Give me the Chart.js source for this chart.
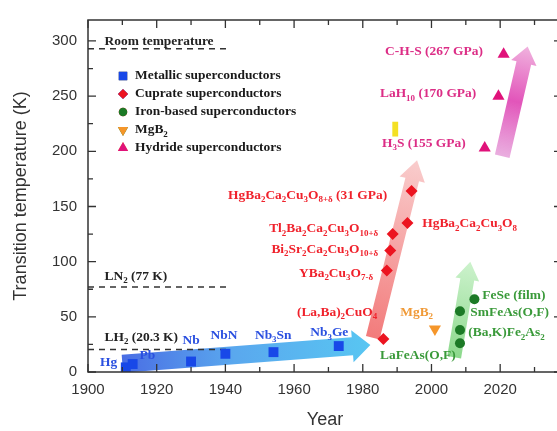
<!DOCTYPE html>
<html>
<head>
<meta charset="utf-8">
<script src="https://cdn.jsdelivr.net/npm/chart.js@4.4.1/dist/chart.umd.min.js"></script>
<style>
  html, body { margin: 0; padding: 0; background: #fff; overflow: hidden; }
  #wrap { width: 557px; height: 431px; overflow: hidden; }
</style>
</head>
<body>
<div id="wrap"><canvas id="tcChart" width="572" height="431"></canvas></div>
<script>
// discovery year vs transition temperature (K)
const metalYears = [1911, 1913, 1930, 1940, 1954, 1973];
const metalTc = [4.2, 7.2, 9.5, 16.5, 18, 23.5];

const cuprateYears = [1986, 1987, 1988, 1988.7, 1993, 1994.2];
const cuprateTc = [30, 92, 110, 125, 135, 164];

const ironYears = [2008.3, 2008.3, 2008.3, 2012.5];
const ironTc = [26, 38, 55, 66];

const mgb2Years = [2001];
const mgb2Tc = [39];

const hydrideYears = [2015.5, 2019.5, 2021];
const hydrideTc = [203, 250, 288];

const xTickStep = 20;
const yTickStep = 50;

// reference temperatures
const refNames = ['Room temperature', 'LN_2 (77 K)', 'LH_2 (20.3 K)'];
const refTemps = [293, 77, 20.3];
const refLabelTc = [299, 86.6, 31];

// point labels: text, year, Tc, align, family
const labels = [
  ['Hg', 1903.5, 8, 'left', 'metal'],
  ['Pb', 1915, 15, 'left', 'metal'],
  ['Nb', 1930, 28.5, 'center', 'metal'],
  ['NbN', 1939.6, 33, 'center', 'metal'],
  ['Nb_3Sn', 1948.6, 33, 'left', 'metal'],
  ['Nb_3Ge', 1964.7, 35, 'left', 'metal'],
  ['(La,Ba)_2CuO_4', 1984.2, 53.6, 'right', 'cuprate'],
  ['YBa_2Cu_3O_{7-δ}', 1983, 89, 'right', 'cuprate'],
  ['Bi_2Sr_2Ca_2Cu_3O_{10+δ}', 1984.5, 110.7, 'right', 'cuprate'],
  ['Tl_2Ba_2Ca_2Cu_3O_{10+δ}', 1984.5, 129.5, 'right', 'cuprate'],
  ['HgBa_2Ca_2Cu_3O_8', 1997.3, 134, 'left', 'cuprate'],
  ['HgBa_2Ca_2Cu_3O_{8+δ} (31 GPa)', 1987.1, 160, 'right', 'cuprate'],
  ['MgB_2', 1990.9, 54, 'left', 'mgb2'],
  ['LaFeAs(O,F)', 1985, 15, 'left', 'iron'],
  ['(Ba,K)Fe_2As_2', 2010.7, 35, 'left', 'iron'],
  ['SmFeAs(O,F)', 2011.3, 54, 'left', 'iron'],
  ['FeSe (film)', 2014.8, 69, 'left', 'iron'],
  ['H_3S (155 GPa)', 1985.6, 207, 'left', 'hydride'],
  ['LaH_{10} (170 GPa)', 1985, 252, 'left', 'hydride'],
  ['C-H-S (267 GPa)', 1986.5, 290, 'left', 'hydride']
];

// trend arrows: family, tail [year, Tc], tip [year, Tc]
const arrows = [
  ['metal', [1910, 7.5], [1982.2, 24.5]],
  ['cuprate', [1982.9, 31], [1995.8, 192]],
  ['iron', [2006.6, 13.4], [2011.3, 100]],
  ['hydride', [2020.6, 195.5], [2028, 295]]
];
const yellowBox = [[1988.6, 213.4], [1990.3, 226.8]];

const labelColors = { metal: '#2b50e0', cuprate: '#f0222c', iron: '#3a9a3a', mgb2: '#f09a38', hydride: '#dc2d86', ref: '#222' };

const serif = '"Liberation Serif", "Times New Roman", serif';
const sans = '"Liberation Sans", Arial, sans-serif';

function pts(xs, ys) { return xs.map((x, i) => ({ x: x, y: ys[i] })); }

function parseRich(s) {
  const parts = [];
  let buf = '', i = 0;
  while (i < s.length) {
    if (s[i] === '_') {
      if (buf) parts.push([buf, false]);
      buf = '';
      if (s[i + 1] === '{') {
        const j = s.indexOf('}', i);
        parts.push([s.slice(i + 2, j), true]);
        i = j + 1;
      } else {
        parts.push([s[i + 1], true]);
        i += 2;
      }
    } else {
      buf += s[i];
      i++;
    }
  }
  if (buf) parts.push([buf, false]);
  return parts;
}

function drawRich(ctx, s, x, y, align, color, size) {
  const parts = parseRich(s);
  const big = 'bold ' + size + 'px ' + serif;
  const small = 'bold ' + Math.round(size * 0.65) + 'px ' + serif;
  let w = 0;
  parts.forEach(p => { ctx.font = p[1] ? small : big; w += ctx.measureText(p[0]).width; });
  let cx = align === 'left' ? 0 : align === 'right' ? -w : -w / 2;
  ctx.save();
  ctx.translate(x, y);
  ctx.scale(1.12, 1);
  ctx.fillStyle = color;
  ctx.textBaseline = 'middle';
  ctx.textAlign = 'left';
  parts.forEach(p => {
    ctx.font = p[1] ? small : big;
    ctx.fillText(p[0], cx, p[1] ? size * 0.38 : 0);
    cx += ctx.measureText(p[0]).width;
  });
  ctx.restore();
}

const arrowStyle = {
  metal: { shaft: 18, head: 32, headLen: 18, stops: [[0, '#4a6ee4'], [0.45, '#5aa8ee'], [1, '#58c6f2']] },
  cuprate: { shaft: 14, head: 26, headLen: 20, stops: [[0, 'rgba(240,100,100,0.85)'], [1, 'rgba(248,196,196,0.85)']] },
  iron: { shaft: 14, head: 24, headLen: 18, stops: [[0, 'rgba(120,210,120,0.85)'], [1, 'rgba(196,240,196,0.85)']] },
  hydride: { shaft: 15, head: 26, headLen: 17, stops: [[0, 'rgba(230,160,218,0.85)'], [0.5, '#e255ba'], [1, '#f0b2de']] }
};

function drawArrow(ctx, x0, y0, x1, y1, st) {
  const ang = Math.atan2(y1 - y0, x1 - x0);
  const len = Math.hypot(x1 - x0, y1 - y0);
  ctx.save();
  ctx.translate(x0, y0);
  ctx.rotate(ang);
  const g = ctx.createLinearGradient(0, 0, len, 0);
  st.stops.forEach(s => g.addColorStop(s[0], s[1]));
  ctx.fillStyle = g;
  ctx.beginPath();
  ctx.moveTo(0, -st.shaft / 2);
  ctx.lineTo(len - st.headLen, -st.shaft / 2);
  ctx.lineTo(len - st.headLen, -st.head / 2);
  ctx.lineTo(len, 0);
  ctx.lineTo(len - st.headLen, st.head / 2);
  ctx.lineTo(len - st.headLen, st.shaft / 2);
  ctx.lineTo(0, st.shaft / 2);
  ctx.closePath();
  ctx.fill();
  ctx.restore();
}

const decorations = {
  id: 'decorations',
  beforeDatasetsDraw(chart) {
    const ctx = chart.ctx, a = chart.chartArea;
    const xs = chart.scales.x, ys = chart.scales.y;
    ctx.save();
    ctx.beginPath();
    ctx.rect(a.left, a.top, a.right - a.left, a.bottom - a.top);
    ctx.clip();
    arrows.forEach(ar => {
      drawArrow(ctx, xs.getPixelForValue(ar[1][0]), ys.getPixelForValue(ar[1][1]),
        xs.getPixelForValue(ar[2][0]), ys.getPixelForValue(ar[2][1]), arrowStyle[ar[0]]);
    });
    const bx0 = xs.getPixelForValue(yellowBox[0][0]), bx1 = xs.getPixelForValue(yellowBox[1][0]);
    const by0 = ys.getPixelForValue(yellowBox[0][1]), by1 = ys.getPixelForValue(yellowBox[1][1]);
    ctx.fillStyle = '#f4e024';
    ctx.fillRect(bx0, by1, bx1 - bx0, by0 - by1);
    ctx.restore();
  },
  afterDatasetsDraw(chart) {
    const ctx = chart.ctx, a = chart.chartArea;
    const xs = chart.scales.x, ys = chart.scales.y;
    // point labels
    labels.forEach(l => {
      drawRich(ctx, l[0], xs.getPixelForValue(l[1]), ys.getPixelForValue(l[2]), l[3], labelColors[l[4]], 12);
    });
    refNames.forEach((n, i) => {
      drawRich(ctx, n, xs.getPixelForValue(1904.8), ys.getPixelForValue(refLabelTc[i]), 'left', labelColors.ref, 12);
    });
    // legend
    chart.data.datasets.forEach((ds, i) => {
      if (!ds.legendName) return;
      const y = 76 + i * 18;
      Chart.helpers.drawPoint(ctx, {
        pointStyle: ds.pointStyle, radius: ds.pointRadius * 0.85, rotation: ds.rotation || 0, borderWidth: 0
      }, 123, y);
      ctx.fillStyle = ds.backgroundColor;
      ctx.fill();
      drawRich(ctx, ds.legendName, 135, y, 'left', '#1a1a1a', 12);
    });
    // frame with inward ticks on all sides
    ctx.save();
    ctx.strokeStyle = '#333';
    ctx.lineWidth = 1.5;
    ctx.strokeRect(a.left, a.top, a.right - a.left, a.bottom - a.top);
    ctx.lineWidth = 1.3;
    ctx.beginPath();
    for (let v = xs.min; v <= xs.max; v += xTickStep / 2) {
      const px = xs.getPixelForValue(v);
      const L = (v - xs.min) % xTickStep === 0 ? 8 : 5;
      ctx.moveTo(px, a.bottom); ctx.lineTo(px, a.bottom - L);
      ctx.moveTo(px, a.top); ctx.lineTo(px, a.top + L);
    }
    for (let v = ys.min; v <= ys.max; v += yTickStep / 2) {
      const py = ys.getPixelForValue(v);
      const L = v % yTickStep === 0 ? 8 : 5;
      ctx.moveTo(a.left, py); ctx.lineTo(a.left + L, py);
      ctx.moveTo(a.right, py); ctx.lineTo(a.right - L, py);
    }
    ctx.stroke();
    ctx.restore();
  }
};

const refDatasets = refTemps.map(t => ({
  type: 'line',
  data: [{ x: 1900, y: t }, { x: 1940.8, y: t }],
  borderColor: '#333',
  borderWidth: 1.5,
  borderDash: [6, 5],
  pointRadius: 0,
  showLine: true
}));

new Chart(document.getElementById('tcChart'), {
  type: 'scatter',
  data: {
    datasets: [
      { legendName: 'Metallic superconductors', data: pts(metalYears, metalTc), pointStyle: 'rect', pointRadius: 7, backgroundColor: '#1848e8', borderWidth: 0 },
      { legendName: 'Cuprate superconductors', data: pts(cuprateYears, cuprateTc), pointStyle: 'rectRot', pointRadius: 6, backgroundColor: '#ec1420', borderWidth: 0 },
      { legendName: 'Iron-based superconductors', data: pts(ironYears, ironTc), pointStyle: 'circle', pointRadius: 5, backgroundColor: '#1c7a26', borderWidth: 0 },
      { legendName: 'MgB_2', data: pts(mgb2Years, mgb2Tc), pointStyle: 'triangle', rotation: 180, pointRadius: 7, backgroundColor: '#f5962a', borderWidth: 0 },
      { legendName: 'Hydride superconductors', data: pts(hydrideYears, hydrideTc), pointStyle: 'triangle', pointRadius: 7, backgroundColor: '#e0127a', borderWidth: 0 },
      ...refDatasets
    ]
  },
  options: {
    responsive: false,
    animation: false,
    devicePixelRatio: 1,
    layout: { padding: { left: 0, right: 10, top: 15, bottom: 0 } },
    scales: {
      x: {
        type: 'linear',
        min: 1900,
        max: 2038,
        grid: { display: false, drawTicks: false },
        border: { display: false },
        ticks: {
          stepSize: xTickStep,
          includeBounds: false,
          maxRotation: 0,
          padding: 9,
          color: '#333',
          font: { family: sans, size: 15 },
          callback: v => String(v)
        },
        title: { display: true, text: 'Year', color: '#333', font: { family: sans, size: 18 }, padding: { top: 0, bottom: 0 } },
        afterFit: s => { s.height = 59; }
      },
      y: {
        min: 0,
        max: 319,
        grid: { display: false, drawTicks: false },
        border: { display: false },
        ticks: {
          stepSize: yTickStep,
          includeBounds: false,
          padding: 11,
          color: '#333',
          font: { family: sans, size: 15 }
        },
        title: { display: true, text: 'Transition temperature (K)', color: '#333', font: { family: sans, size: 18 }, padding: { top: 10, bottom: 0 } },
        afterFit: s => { s.width = 88; }
      }
    },
    plugins: {
      legend: { display: false },
      tooltip: { enabled: false }
    }
  },
  plugins: [decorations]
});
</script>
</body>
</html>
